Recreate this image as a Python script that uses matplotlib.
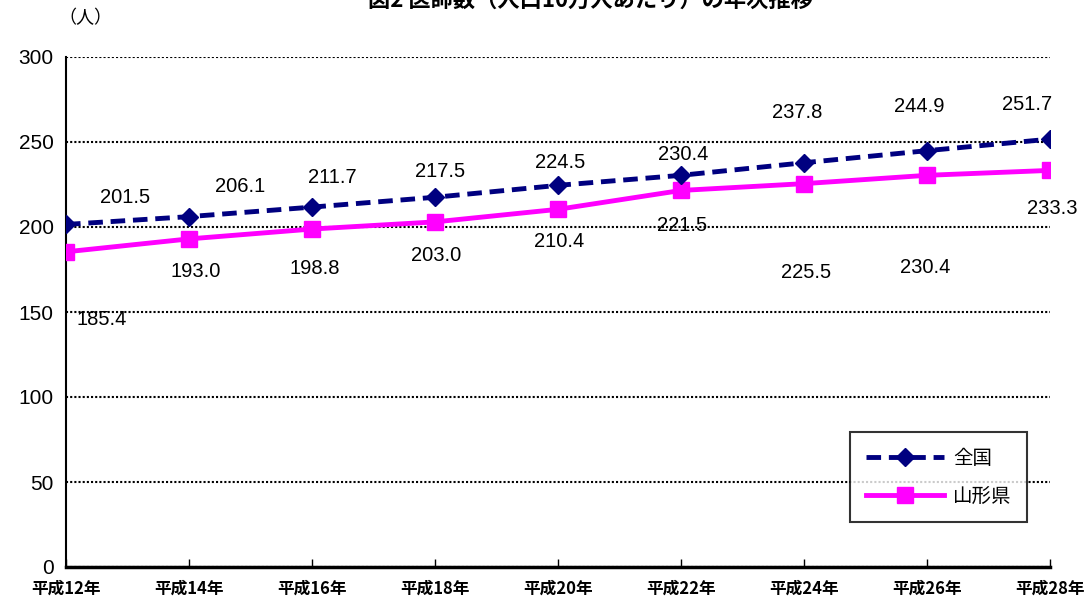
import matplotlib
matplotlib.use("Agg")
import matplotlib.pyplot as plt

plt.rcParams['font.family'] = ['Noto Sans CJK JP', 'DejaVu Sans']

categories = ["平成12年", "平成14年", "平成16年", "平成18年", "平成20年",
              "平成22年", "平成24年", "平成26年", "平成28年"]
zenkoku = [201.5, 206.1, 211.7, 217.5, 224.5, 230.4, 237.8, 244.9, 251.7]
yamagata = [185.4, 193.0, 198.8, 203.0, 210.4, 221.5, 225.5, 230.4, 233.3]

# label offsets in pixels (dx, dy)
z_off = [(59, 27), (51, 30), (20, 30), (5, 26), (2, 23), (2, 21), (-7, 50), (-8, 44), (-23, 35)]
y_off = [(36, -68), (7, -33), (3, -39), (1, -34), (1, -32), (1, -35), (2, -89), (-2, -92), (2, -38)]

fig = plt.figure(figsize=(10.85, 6.03), dpi=100)
ax = fig.add_axes([66/1085, 36/603, 984/1085, 510/603])
x = list(range(len(categories)))

ax.plot(x, zenkoku, color="#000080", lw=3.5, ls=(0, (3, 1.6)), marker="D", ms=9,
        mfc="#000080", mec="#000080", label="全国", zorder=4)
ax.plot(x, yamagata, color="#FF00FF", lw=3.5, marker="s", ms=12,
        mfc="#FF00FF", mec="#FF00FF", label="山形県", zorder=3)

px = 0.72  # points per pixel at 100 dpi
for i, v in enumerate(zenkoku):
    ax.annotate(f"{v:.1f}", (x[i], v), xytext=(z_off[i][0]*px, z_off[i][1]*px),
                textcoords="offset points", ha="center", va="center", fontsize=14.5,
                family=["Liberation Sans", "DejaVu Sans"])
for i, v in enumerate(yamagata):
    ax.annotate(f"{v:.1f}", (x[i], v), xytext=(y_off[i][0]*px, y_off[i][1]*px),
                textcoords="offset points", ha="center", va="center", fontsize=14.5,
                family=["Liberation Sans", "DejaVu Sans"], annotation_clip=False)

ax.set_xlim(0, 8)
ax.set_ylim(0, 300)
ax.set_yticks(range(0, 301, 50))
ax.set_xticks(x)
ax.set_xticklabels(categories, fontsize=12, fontweight="bold")
ax.tick_params(axis="x", direction="in", length=6, width=1, pad=9)
ax.tick_params(axis="y", length=0, labelsize=15, pad=9)
for lbl in ax.get_yticklabels():
    lbl.set_family(["Liberation Sans", "DejaVu Sans"])
ax.yaxis.grid(True, color="black", ls=(0, (1, 1)), lw=1.5)
ax.set_axisbelow(True)
for s in ["top", "right"]:
    ax.spines[s].set_visible(False)
for s in ["left", "bottom"]:
    ax.spines[s].set_linewidth(1.5)
    ax.spines[s].set_color("black")
ax.spines["bottom"].set_linewidth(2.5)

leg = ax.legend(loc="lower right", bbox_to_anchor=(0.977, 0.088), borderaxespad=0,
                frameon=True, fancybox=False, edgecolor="black", fontsize=14,
                handlelength=4.0, labelspacing=0.85, borderpad=0.8, handletextpad=0.5)
leg.get_frame().set_linewidth(1.5)

fig.text(85/1085, 1 - 18/603, "（人）", ha="center", va="center", fontsize=13)
fig.text(590/1085, 1 - 0/603, "図2 医師数（人口10万人あたり）の年次推移", ha="center",
         va="center", fontsize=16, fontweight="bold")

fig.savefig("out.png", dpi=100)
